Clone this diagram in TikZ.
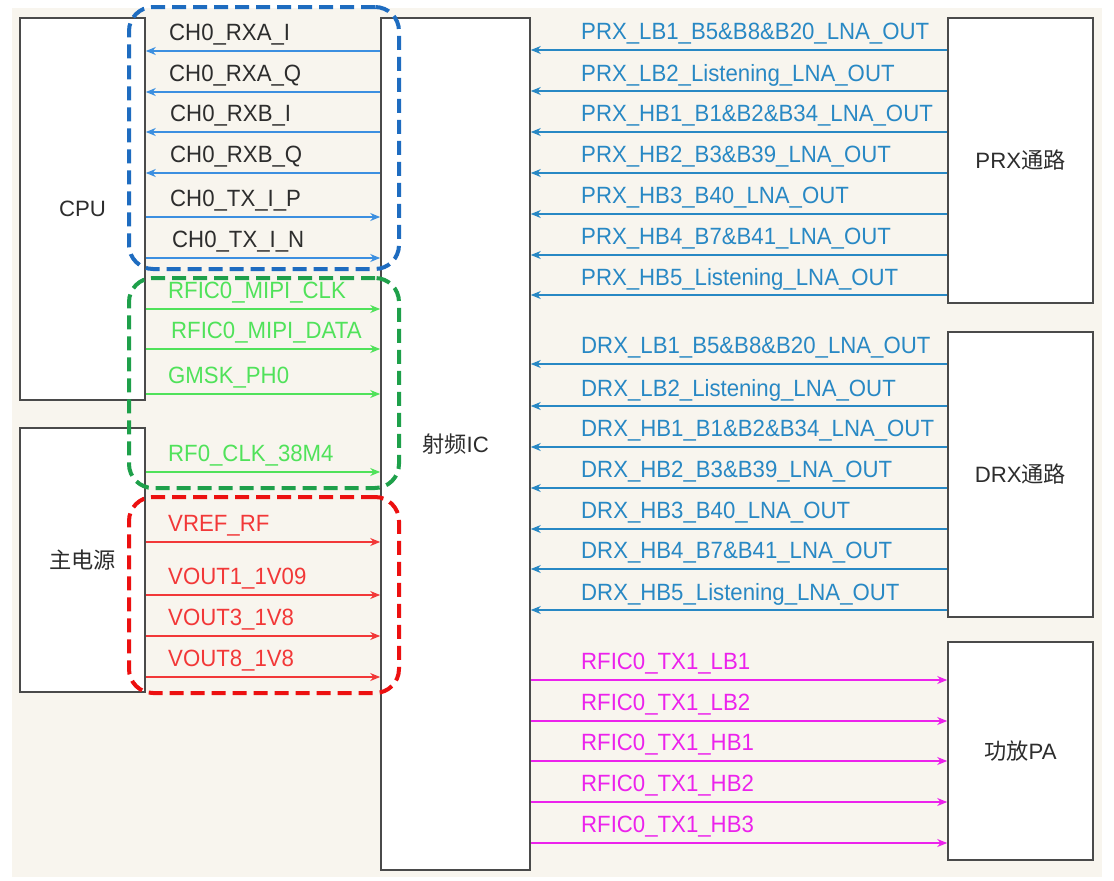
\documentclass[tikz,border=0pt]{standalone}
\usepackage{fontspec}
\setmainfont{Liberation Sans}
\newfontfamily\cjk{Noto Sans CJK SC}
\usepackage{tikz}
\usetikzlibrary{shapes,arrows.meta}
\definecolor{bgbeige}{RGB}{248,245,238}
\definecolor{boxgray}{RGB}{74,74,74}
\definecolor{labelgray}{RGB}{45,45,45}
\definecolor{lineblue}{RGB}{60,143,224}
\definecolor{rxblue}{RGB}{40,136,196}
\definecolor{siggreen}{RGB}{80,226,90}
\definecolor{sigred}{RGB}{242,56,56}
\definecolor{sigmagenta}{RGB}{236,34,236}
\definecolor{grpblue}{RGB}{30,108,192}
\definecolor{grpgreen}{RGB}{30,160,74}
\definecolor{grpred}{RGB}{236,16,16}
\newcommand{\lblfont}{\fontsize{22.2}{26}\selectfont}
\tikzstyle{blk}=[rectangle, draw=boxgray, line width=1.6pt, fill=white, inner sep=0pt, font=\lblfont, text=labelgray]
\tikzstyle{grpbox}=[rectangle, line width=4pt, rounded corners=24pt, dash pattern=on 14pt off 7pt, inner sep=0pt]
\tikzstyle{siglabel}=[anchor=west, inner sep=0pt, font=\lblfont, yscale=1.06]
\tikzstyle{sig}=[line width=1.4pt, -{Stealth[length=10pt,width=8pt]}]
\tikzstyle{cpusig}=[color=lineblue, text=labelgray]
\tikzstyle{rfsig}=[color=rxblue]
\tikzstyle{ctlsig}=[color=siggreen]
\tikzstyle{pwrsig}=[color=sigred]
\tikzstyle{txsig}=[color=sigmagenta]
\newcommand{\sigleft}[7]{
	\coordinate (#1w) at (#2.east |- 0,#4);
	\coordinate (#1e) at (#3.west |- 0,#4);
	\node[siglabel, #6] (#1) at (#5,#4-16) {#7};
	\path (#1e) edge[sig, #6] (#1w);}
\newcommand{\sigright}[7]{
	\coordinate (#1w) at (#2.east |- 0,#4);
	\coordinate (#1e) at (#3.west |- 0,#4);
	\node[siglabel, #6] (#1) at (#5,#4-16) {#7};
	\path (#1w) edge[sig, #6] (#1e);}

\begin{document}
\begin{tikzpicture}[x=1pt,y=-1pt]
\useasboundingbox (0,0) rectangle (1114,881);
\fill[bgbeige] (12,8) rectangle (1102,877);

\node[blk, minimum width=125, minimum height=382] (cpu) at (82.5,209) {CPU};
\node[blk, minimum width=125, minimum height=264] (psu) at (82.5,560) {\cjk 主电源};
\node[blk, minimum width=149, minimum height=852] (ic) at (455.5,444) {{\cjk 射频}IC};
\node[blk, minimum width=145, minimum height=285] (prx) at (1020.5,160.5) {PRX{\cjk 通路}};
\node[blk, minimum width=145, minimum height=285] (drx) at (1020.5,474.5) {DRX{\cjk 通路}};
\node[blk, minimum width=145, minimum height=218] (pa) at (1020.5,751) {{\cjk 功放}PA};

\sigleft{rxai}{cpu}{ic}{51}{169}{cpusig}{CH0\_RXA\_I}
\sigleft{rxaq}{cpu}{ic}{92}{169}{cpusig}{CH0\_RXA\_Q}
\sigleft{rxbi}{cpu}{ic}{132}{170}{cpusig}{CH0\_RXB\_I}
\sigleft{rxbq}{cpu}{ic}{173}{170}{cpusig}{CH0\_RXB\_Q}
\sigright{txip}{cpu}{ic}{217}{170}{cpusig}{CH0\_TX\_I\_P}
\sigright{txin}{cpu}{ic}{258}{172}{cpusig}{CH0\_TX\_I\_N}

\sigright{mipiclk}{cpu}{ic}{309}{168}{ctlsig}{RFIC0\_MIPI\_CLK}
\sigright{mipidata}{cpu}{ic}{349}{171}{ctlsig}{RFIC0\_MIPI\_DATA}
\sigright{gmsk}{cpu}{ic}{394}{168}{ctlsig}{GMSK\_PH0}
\sigright{refclk}{cpu}{ic}{472}{168}{ctlsig}{RF0\_CLK\_38M4}

\sigright{vref}{psu}{ic}{542}{168}{pwrsig}{VREF\_RF}
\sigright{voutone}{psu}{ic}{595}{168}{pwrsig}{VOUT1\_1V09}
\sigright{voutthree}{psu}{ic}{636}{168}{pwrsig}{VOUT3\_1V8}
\sigright{vouteight}{psu}{ic}{677}{168}{pwrsig}{VOUT8\_1V8}

\sigleft{prxlbone}{ic}{prx}{50}{581}{rfsig}{PRX\_LB1\_B5\&B8\&B20\_LNA\_OUT}
\sigleft{prxlbtwo}{ic}{prx}{91}{581}{rfsig}{PRX\_LB2\_Listening\_LNA\_OUT}
\sigleft{prxhbone}{ic}{prx}{132}{581}{rfsig}{PRX\_HB1\_B1\&B2\&B34\_LNA\_OUT}
\sigleft{prxhbtwo}{ic}{prx}{173}{581}{rfsig}{PRX\_HB2\_B3\&B39\_LNA\_OUT}
\sigleft{prxhbthree}{ic}{prx}{214}{581}{rfsig}{PRX\_HB3\_B40\_LNA\_OUT}
\sigleft{prxhbfour}{ic}{prx}{255}{581}{rfsig}{PRX\_HB4\_B7\&B41\_LNA\_OUT}
\sigleft{prxhbfive}{ic}{prx}{295}{581}{rfsig}{PRX\_HB5\_Listening\_LNA\_OUT}

\sigleft{drxlbone}{ic}{drx}{364}{581}{rfsig}{DRX\_LB1\_B5\&B8\&B20\_LNA\_OUT}
\sigleft{drxlbtwo}{ic}{drx}{406}{581}{rfsig}{DRX\_LB2\_Listening\_LNA\_OUT}
\sigleft{drxhbone}{ic}{drx}{447}{581}{rfsig}{DRX\_HB1\_B1\&B2\&B34\_LNA\_OUT}
\sigleft{drxhbtwo}{ic}{drx}{488}{581}{rfsig}{DRX\_HB2\_B3\&B39\_LNA\_OUT}
\sigleft{drxhbthree}{ic}{drx}{529}{581}{rfsig}{DRX\_HB3\_B40\_LNA\_OUT}
\sigleft{drxhbfour}{ic}{drx}{569}{581}{rfsig}{DRX\_HB4\_B7\&B41\_LNA\_OUT}
\sigleft{drxhbfive}{ic}{drx}{610}{581}{rfsig}{DRX\_HB5\_Listening\_LNA\_OUT}

\sigright{txlbone}{ic}{pa}{680}{581}{txsig}{RFIC0\_TX1\_LB1}
\sigright{txlbtwo}{ic}{pa}{721}{581}{txsig}{RFIC0\_TX1\_LB2}
\sigright{txhbone}{ic}{pa}{761}{581}{txsig}{RFIC0\_TX1\_HB1}
\sigright{txhbtwo}{ic}{pa}{802}{581}{txsig}{RFIC0\_TX1\_HB2}
\sigright{txhbthree}{ic}{pa}{843}{581}{txsig}{RFIC0\_TX1\_HB3}

\node[grpbox, draw=grpblue, minimum width=270, minimum height=262] (cpugrp) at (264,138) {};
\node[grpbox, draw=grpgreen, minimum width=270, minimum height=210] (ctlgrp) at (264,383) {};
\node[grpbox, draw=grpred, minimum width=270, minimum height=196] (pwrgrp) at (264,595) {};
\end{tikzpicture}
\end{document}
